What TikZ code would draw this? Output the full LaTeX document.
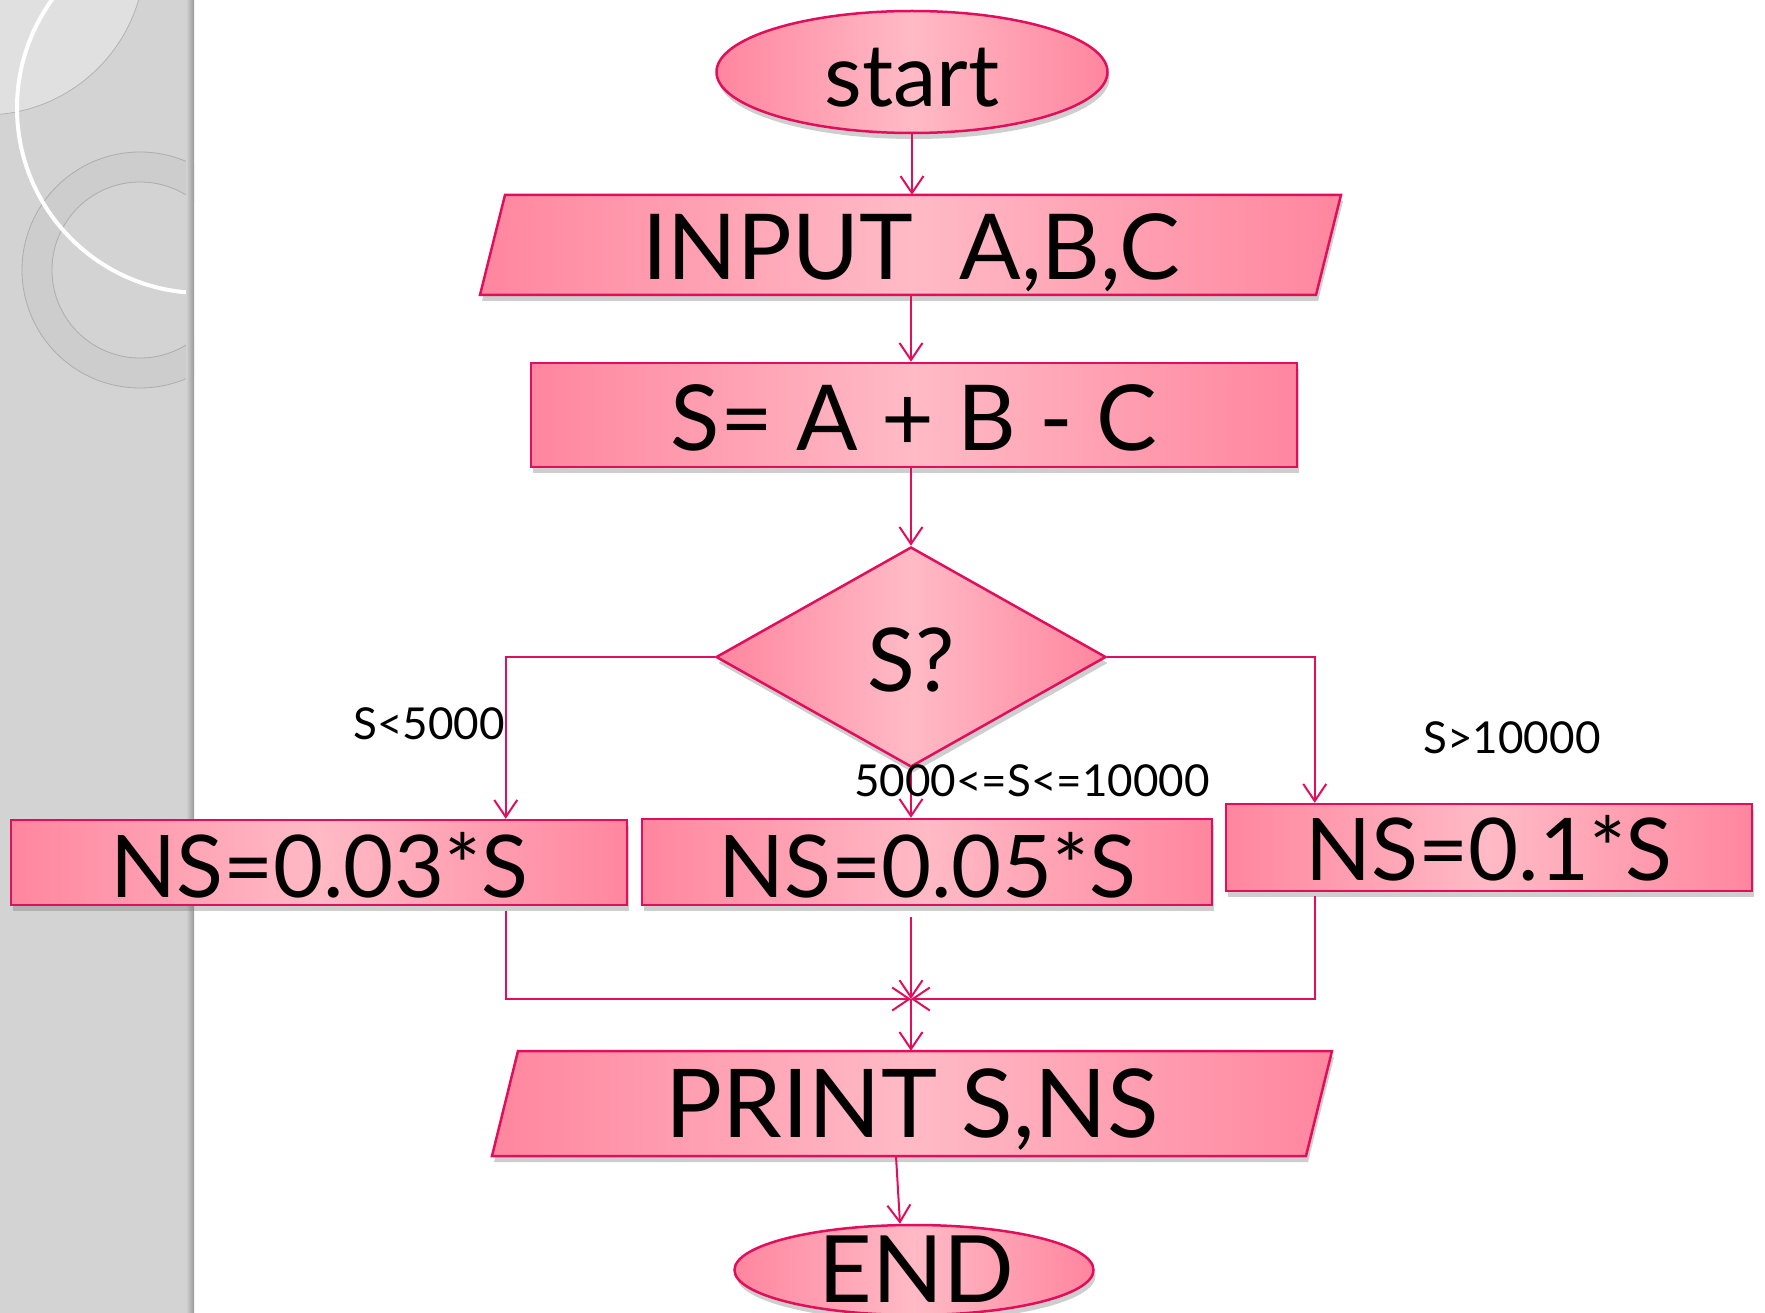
\documentclass[tikz,border=0pt]{standalone}
\usepackage{fontspec}
\setmainfont{Lato}
\usetikzlibrary{shapes.geometric,arrows.meta,shadows}
\definecolor{edgec}{RGB}{226,14,92}
\definecolor{pinkE}{RGB}{255,134,158}
\definecolor{pinkC}{RGB}{255,186,198}
\definecolor{panelc}{RGB}{211,211,211}
\newcommand\myfs[1]{\fontsize{#1}{#1}\selectfont}
\begin{document}
\begin{tikzpicture}[x=1pt,y=-1pt,
  pinkfill/.style={left color=pinkE,right color=pinkE,middle color=pinkC},
  outline/.style={draw=edgec,line width=2.5pt},
  boxsh/.style={drop shadow={opacity=0.35,shadow xshift=2pt,shadow yshift=-6pt,fill=black!55}},
  flow/.style={draw=edgec,line width=2pt,-{Straight Barb[length=17pt,width=23pt]}},
  lbl/.style={font=\myfs{44},text depth=0pt,text height=31.5pt,inner sep=0pt},
  boxnode/.style={rectangle,inner sep=0pt,pinkfill,outline,boxsh},
  txtnode/.style={rectangle,inner sep=0pt}]
\useasboundingbox (0,0) rectangle (1765,1313);
\fill[white] (0,0) rectangle (1765,1313);
% decorative side panel
\fill[panelc] (0,0) rectangle (194,1313);
\begin{scope}
  \clip (0,0) rectangle (194,1313);
  \fill[white,opacity=0.3] (-15,-45) circle (160pt);
  \draw[black!30,line width=0.8pt] (-15,-45) circle (160pt);
  \fill[black!22,opacity=0.45,even odd rule] (140,270) circle (118pt) (140,270) circle (88pt);
  \draw[black!32,line width=0.8pt] (140,270) circle (118pt);
  \draw[black!32,line width=0.8pt] (140,270) circle (88pt);
  \draw[white,line width=4pt] (202,108) circle (185pt);
  \shade[left color=panelc,right color=black!40] (186,0) rectangle (194,1313);
\end{scope}
% start
\node[ellipse,minimum width=391pt,minimum height=122pt,inner sep=0pt,pinkfill,outline,boxsh,
      font=\myfs{87},text height=70pt,text depth=0pt] (start) at (912,72) {start};
% input parallelogram
\path[pinkfill,outline,boxsh] (505,195) -- (1341,195) -- (1316,295) -- (480,295) -- cycle;
\node[txtnode,minimum width=836pt,minimum height=100pt,font=\myfs{91},text height=69pt,text depth=0pt]
  (input) at (911,245) {INPUT\ \ A,B,C};
% process
\node[boxnode,minimum width=766pt,minimum height=104pt,font=\myfs{91},text height=71pt,text depth=0pt]
  (calc) at (914,415) {S= A + B - C};
% decision
\node[diamond,minimum width=390pt,minimum height=220pt,inner sep=0pt,pinkfill,outline,boxsh,
      font=\myfs{88},text height=69pt,text depth=0pt] (dia) at (911,657) {S?};
% three results
\node[boxnode,minimum width=616pt,minimum height=85pt,font=\myfs{86.5},text height=69pt,text depth=0pt]
  (b1) at (319,862.5) {NS=0.03*S};
\node[boxnode,minimum width=570pt,minimum height=86pt,font=\myfs{86.5},text height=70pt,text depth=0pt]
  (b2) at (927,862) {NS=0.05*S};
\node[boxnode,minimum width=526pt,minimum height=87pt,font=\myfs{86.5},text height=65pt,text depth=0pt]
  (b3) at (1489,847.5) {NS=0.1*S};
% print parallelogram
\path[pinkfill,outline,boxsh] (518,1051) -- (1332,1051) -- (1306,1156) -- (492,1156) -- cycle;
\node[txtnode,minimum width=814pt,minimum height=105pt,font=\myfs{95},text height=68pt,text depth=0pt]
  (print) at (912,1103.5) {PRINT S,NS};
% end
\node[ellipse,minimum width=359pt,minimum height=90pt,inner sep=0pt,pinkfill,outline,boxsh] (endn) at (914,1270) {};
\node[txtnode,font=\myfs{93},anchor=base] (endtxt) at (916,1302) {END};
% connectors
\draw[flow] (start.south) -- (start.south |- input.north);
\draw[flow] (input.south) -- (input.south |- calc.north);
\draw[flow] (calc.south -| dia.north) -- (dia.north);
\draw[flow] (dia.west) -| ([xshift=496pt]b1.north west);
\draw[flow] (dia.south) -- (dia.south |- b2.north);
\draw[flow] (dia.east) -| ([xshift=90pt]b3.north west);
\coordinate (j) at (911,999);
\draw[flow] ([xshift=496pt,yshift=-5pt]b1.south west) |- (j);
\draw[flow] ([xshift=90pt,yshift=-4pt]b3.south west) |- (j);
\draw[flow] ([yshift=-11pt]b2.south -| j) -- (j);
\draw[flow] (j) -- (j |- print.north);
\draw[flow] ([xshift=-16pt]print.south) -- ([xshift=-14pt]endn.north);
% labels
\node[lbl] (l1) at (429,724) {S<5000};
\node[lbl] (l2) at (1032,781) {5000<=S<=10000};
\node[lbl] (l3) at (1512,738) {S>10000};
\end{tikzpicture}
\end{document}
